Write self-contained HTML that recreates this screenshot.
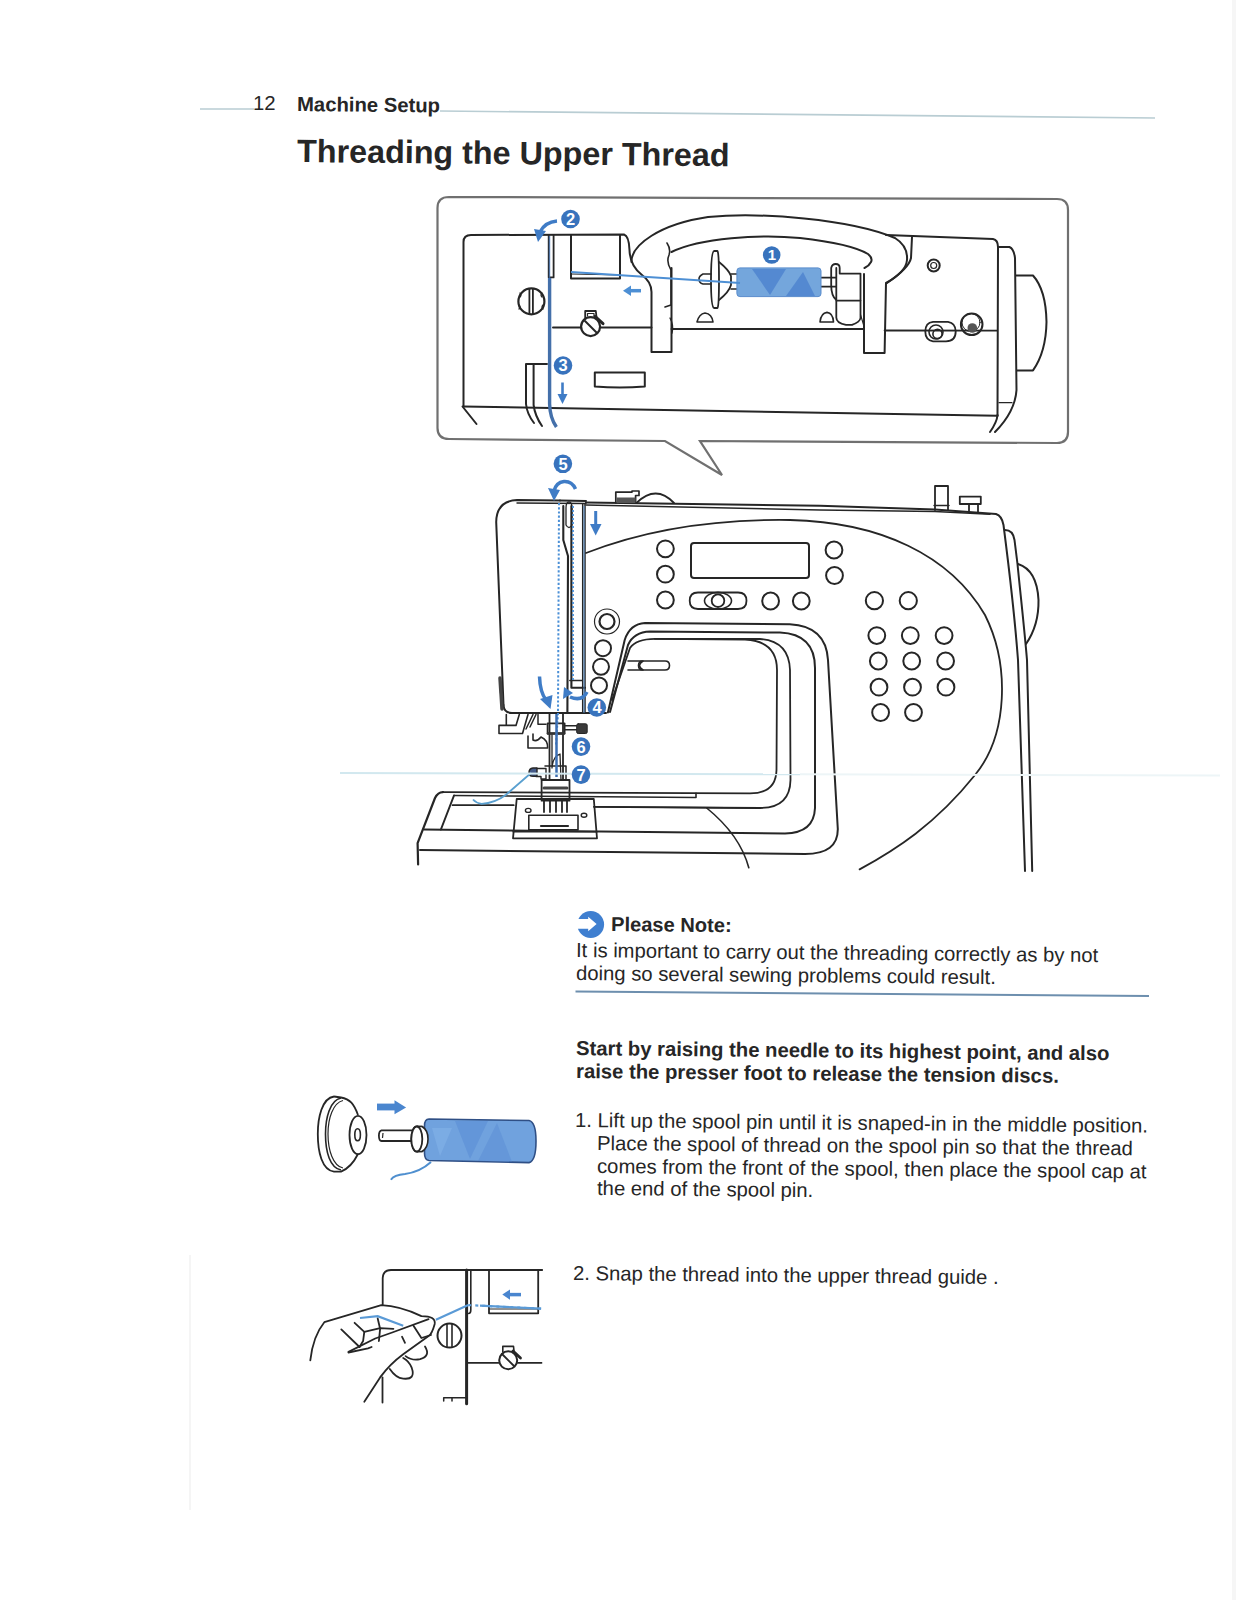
<!DOCTYPE html>
<html><head><meta charset="utf-8">
<style>
html,body{margin:0;padding:0;background:#fff;}
body{width:1236px;height:1600px;position:relative;overflow:hidden;font-family:"Liberation Sans",sans-serif;color:#262626;}
.t{position:absolute;white-space:pre;line-height:1;}
.b{font-weight:bold;}
svg{position:absolute;left:0;top:0;}
</style></head><body>
<svg width="1236" height="1600" viewBox="0 0 1236 1600">
<!-- header rule -->
<g stroke="#b9cdd3" stroke-width="1.6" fill="none">
<path d="M200 109 L254 109"/>
<path d="M440 111 L1155 118"/>
</g>
<!-- callout box -->
<path d="M449 197 L1057 199 Q1068 199 1068 210 L1068 432 Q1068 443 1057 443 L700 441 L722 475 L665 441 L449 439 Q437.5 439 437.5 428 L437.5 208 Q437.5 197 449 197 Z" fill="none" stroke="#707070" stroke-width="2.2"/>
<!-- ===== CALLOUT CONTENTS ===== -->
<g fill="none" stroke="#262626" stroke-width="2" stroke-linecap="round" stroke-linejoin="round">
<!-- body top & left -->
<path d="M463.5 406.5 L463.5 242 Q463.5 235 471 235 L624 234.5 Q629 236 629.5 250 Q630 266 642 275 Q651.5 282 651.5 292 L651.5 352 L671.5 352 L671.5 268"/>
<path d="M462.5 406.5 L476.5 424"/>
<!-- handle outer -->
<path d="M631.5 262 C631 245 660 224 708 217 C760 212 850 219 895 238 Q908 246 907 260 Q906 272 886 283 L884.6 353 L864 353 L864 274"/>
<!-- handle inner -->
<path d="M671.5 252 C700 238 760 234 800 238 C835 242 858 248 868 254 Q873 258 871 262 Q869 266 864.5 268"/>
<!-- squiggle at left leg -->
<path d="M667 243 Q671 249 669 255 Q666 262 671 270 L671 305 L665 307" stroke-width="1.6"/>
<path d="M670 318 Q674 325 672 333" stroke-width="1.4"/>
<!-- right box top line -->
<path d="M886 235 L993 239 Q998 240 998 247 L997.5 415.7"/>
<path d="M912 237 L911 258 Q909 268 887 283"/>
<!-- right side panel & handwheel -->
<path d="M998 247 L1009.4 247 Q1014 249 1015 258 L1016.5 390 Q1015 412 995 432"/>
<path d="M997.5 415 Q997 422 990 432" />
<path d="M1016 275.5 L1033 275.5 Q1046 290 1046.5 322 Q1046 352 1033 370.4 L1017 370.4"/>
<!-- bottom line -->
<path d="M463.5 406.5 L997.5 415.7"/>
<path d="M999 402.7 L1012 402.7" stroke-width="1.2"/>
<!-- mid horizontal lines -->
<path d="M553 327.4 L581 327.4 M600.3 327.4 L651.5 327.4"/>
<path d="M671.5 329 L864 329"/>
<path d="M884.6 330.5 L997 330.7" stroke-width="1.8"/>
<!-- knob -->
<circle cx="531.4" cy="301.4" r="13" stroke-width="2.2"/>
<path d="M520 293 q2 2 0 4 M519 305 q2 2 0 4 M542 293 q-2 2 0 4 M543 305 q-2 2 0 4" stroke-width="1.2"/>
<path d="M529.4 289 L529.4 314 M532.9 289 L532.9 314" stroke-width="1.8"/>
<!-- guide double line -->
<path d="M548.7 235 L548.7 277.4 L553.6 277.4 L553.6 235" stroke-width="1.8"/>
<!-- rectangle guide -->
<path d="M571 235 L571 278.6 L620 278.6 L620 235" />
<path d="M571 274 L620 275" stroke-width="1.2"/>
<!-- tension dial -->
<circle cx="590.6" cy="326.6" r="9.5" stroke-width="2.2"/>
<path d="M585 321 L597 333" stroke-width="2"/>
<path d="M585.2 318 L585.2 311 L595.8 311 L596.5 317" stroke-width="1.8"/>
<path d="M587.5 316 L587.5 313.5 L594 313.5 L594 316" stroke-width="1.2"/>
<path d="M595 316.4 L603 323.7" stroke-width="3"/>
<!-- take-up piece -->
<path d="M547 364 L526 364 L526 404 Q527 414 534 423"/>
<path d="M533.6 365 L533.6 405 Q535 416 542 426"/>
<!-- small rect -->
<path d="M594.8 372.4 L644.8 372.6 L644.8 386.5 Q620 388.5 594.8 386.5 Z"/>
<!-- spool cap -->
<path d="M714 251 Q711 252 711 280 Q711 307 714 308 L717.5 308 Q719 306 719 280 Q719 253 717.5 251 Z" stroke-width="1.8"/>
<path d="M719 262 Q729 270 731 276 L731 285 Q729 292 719 300" stroke-width="1.8"/>
<path d="M711 274 L703 274 Q699 276 699 279 Q699 283 703 284 L711 284" stroke-width="1.6"/>
<path d="M731 274 L737 274 M731 289 L737 289" stroke-width="1.6"/>
<!-- right spool holder -->
<path d="M821 277.6 L836 277.6 M821 286.6 L836 286.6" stroke-width="1.6"/>
<path d="M836.3 300 Q831.2 296 831.2 285 L831.2 268 Q832 264 835.7 264 Q839.7 264 839.7 268 L839.7 273.6 L860.5 273.6 L860.5 318 Q860 322 852 324.8 L846 324.8 Q836.3 323 836.3 317.5 L836.3 268" stroke-width="1.8"/>
<path d="M836.3 300.6 L860.5 300.6" stroke-width="1.6"/>
<path d="M860.5 314.7 L864.4 327.6" stroke-width="1.2"/>
<!-- bumps -->
<path d="M697 322 Q699 314 705 313 Q712 314 713 322 Z" stroke-width="1.6"/>
<path d="M820 322 Q821 313 827 312.4 Q833 313 833.5 322 Z" stroke-width="1.6"/>
<!-- screw -->
<circle cx="933.7" cy="265.5" r="6" stroke-width="2"/>
<circle cx="933.7" cy="265.5" r="3" stroke-width="1.2"/>
<!-- bobbin winder -->
<path d="M933 321.8 L948 321.8 Q955.7 323 955.7 331.5 Q955.7 341.3 946 341.3 L933 341.3 Q925.3 340 925.3 331.5 Q925.3 322.5 933 321.8 Z" stroke-width="1.8"/>
<circle cx="936" cy="332" r="7" stroke-width="1.6"/>
<circle cx="937.5" cy="334" r="4.6" stroke-width="1.6"/>
<!-- stop knob -->
<circle cx="971.7" cy="324.3" r="10.8" stroke-width="2"/>
<circle cx="971" cy="322.5" r="9" stroke-width="1"/>
</g>
<circle cx="972.3" cy="328" r="4.8" fill="#555"/>
<!-- callout blue parts -->
<g>
<rect x="736.9" y="267.9" width="84.1" height="28.7" rx="3" fill="#74a6dc" stroke="#5a8ccc" stroke-width="1"/>
<path d="M752 269 L786 269 L770 295 Z" fill="#4f84cf" opacity="0.85"/>
<path d="M786 296 L815 296 L803 272 Z" fill="#4f84cf" opacity="0.85"/>
<path d="M571 272 L740 283" stroke="#4d8fd4" stroke-width="1.8" fill="none"/>
<path d="M549.6 278 L549.6 404 Q550 418 556.4 427" stroke="#4470aa" stroke-width="3.4" fill="none"/>
<path d="M549.5 236 L549.5 280" stroke="#3d6fb3" stroke-width="1.5" fill="none" opacity="0.7"/>
<!-- arrow left small (callout) -->
<path d="M641 290.7 L630 290.7" stroke="#4d8fd4" stroke-width="3.5" fill="none"/>
<path d="M623 290.7 L631 285.5 L631 296 Z" fill="#4d8fd4"/>
<!-- arrow 2 curved -->
<path d="M557 221 Q545 222 540 232" stroke="#3f7cc6" stroke-width="3.5" fill="none"/>
<path d="M534 229 L546 231 L538 242 Z" fill="#3f7cc6"/>
<!-- arrow down 3 -->
<path d="M562.5 382.5 L562.5 396" stroke="#3f7cc6" stroke-width="2.6" fill="none"/>
<path d="M557.5 394 L567.5 394 L562.5 404 Z" fill="#3f7cc6"/>
</g>
<!-- ===== MAIN MACHINE ===== -->
<g fill="none" stroke="#262626" stroke-width="2" stroke-linecap="round" stroke-linejoin="round">
<!-- head top double line & left -->
<path d="M503.5 705 L496.2 522 Q496.5 501 517 500 L560 500.5"/>
<path d="M517 503 L586 503.5" stroke-width="1.4"/>
<path d="M560 500.5 L586 501"/>
<path d="M586 502.5 L820 505.8 L935 509.5 L996 514 Q1002 516 1003.5 525 C1008 560 1015 620 1018 660 L1025 871"/>
<path d="M586 505 L820 510 L935 511.5 L990 514.3" stroke-width="1.5"/>
<!-- second right edge -->
<path d="M1005 530 Q1013 530 1014.5 540 L1017.5 564 C1020 590 1024 625 1027 660 L1032.2 871"/>
<!-- handwheel -->
<path d="M1018 564 Q1037 570 1038.5 600 Q1039 625 1026 644"/>
<!-- top bobbin winder thing + dome -->
<path d="M615.8 503 L615.8 492.1 L632 492.1 L632 491 L639 491 L639 495.5 L635.6 495.5 L635.6 503" stroke-width="1.7"/>
<rect x="616.5" y="497.5" width="19" height="5.5" fill="#555" stroke="none"/>
<path d="M636.4 503 Q656 484 674 503" stroke-width="1.9"/>
<!-- spool pin & T pin -->
<path d="M935 510 L935 486 L948 486 L948 510" stroke-width="1.8"/>
<path d="M934 505.5 L949 505.5" stroke-width="1.4"/>
<path d="M959.8 504 L959.8 496.6 L980.8 496.6 L980.8 504 Z M969 504 L969 512 M978 504 L978 512" stroke-width="1.8"/>
<!-- panel big curve -->
<path d="M586 553 C650 528 720 519 790 520 C880 522 950 555 985 615 C1010 665 1008 735 975 775 C935 825 895 850 859.6 869.4" stroke-width="1.8"/>
<!-- take-up slot & panel left edge -->
<path d="M582.7 504 L582.7 713 M585 504 L585 713" stroke-width="1.5"/>
<path d="M563.3 506 L563.3 540 L568 556 L567.4 713" stroke-width="2.1"/>
<path d="M571.4 506 L571.4 687.8 L585 687.8" stroke-width="2.1"/>
<path d="M569.8 680.5 L582 680.5" stroke-width="1.4"/>
<path d="M566 508 Q566 502 569 502 Q572 502 572 508 L572 525 Q569 530 566 525 Z" stroke-width="1.3"/>
<!-- head bottom -->
<path d="M503.5 705 Q504 713 512 713 L606 713"/>
<path d="M500 678 L502 709" stroke="#444" stroke-width="3.5"/>
<!-- LCD & buttons row -->
<rect x="691" y="543.1" width="118" height="34.8" rx="3"/>
<circle cx="665.4" cy="548.8" r="8.4"/>
<circle cx="665.4" cy="574.2" r="8.4"/>
<circle cx="665.4" cy="600" r="8.4"/>
<circle cx="834" cy="550" r="8.4"/>
<circle cx="834.5" cy="575.5" r="8.4"/>
<circle cx="770.6" cy="601" r="8.4"/>
<circle cx="801.3" cy="601" r="8.4"/>
<circle cx="874.4" cy="600.7" r="8.6"/>
<circle cx="908.3" cy="600.7" r="8.6"/>
<path d="M698 592.5 L738 592.5 Q746.5 592.5 746.5 600.8 Q746.5 609 738 609 L698 609 Q689.7 609 689.7 600.8 Q689.7 592.5 698 592.5 Z" stroke-width="1.8"/>
<ellipse cx="718" cy="600.7" rx="13.5" ry="8.3" stroke-width="1.6"/>
<circle cx="718" cy="600.7" r="6.3" stroke-width="1.8"/>
<!-- grid buttons -->
<circle cx="876.8" cy="635.6" r="8.4"/><circle cx="910.3" cy="635.6" r="8.4"/><circle cx="944.1" cy="635.6" r="8.4"/>
<circle cx="878.3" cy="661" r="8.4"/><circle cx="911.7" cy="661" r="8.4"/><circle cx="945.6" cy="661" r="8.4"/>
<circle cx="879" cy="687.2" r="8.4"/><circle cx="912.5" cy="687.2" r="8.4"/><circle cx="946" cy="687.2" r="8.4"/>
<circle cx="880.6" cy="712.5" r="8.4"/><circle cx="913.5" cy="712.5" r="8.4"/>
<!-- side buttons -->
<circle cx="607" cy="621.5" r="7.5" stroke-width="2.2"/>
<circle cx="607" cy="621.5" r="12.5" stroke-width="1.2"/>
<circle cx="603" cy="648.2" r="8"/>
<circle cx="601" cy="666.8" r="8"/>
<circle cx="599" cy="685.4" r="8"/>
<!-- arm curves -->
<path d="M607.9 712.5 L624.7 640 Q630 624 645 623.1 L789.8 624.2 Q826 626 828 660 L837.8 829 Q838 854 805 854 L420 850" stroke-width="2"/>
<path d="M610 712 L628 645 Q634 632 650 631.6 L780 632.5 Q815 634 815 668 L815 808 Q814 833 785 833.5 L424 829.5" stroke-width="2"/>
<path d="M612 700 L630 648 Q636 639 655 638.9 L760 639 Q789 641 790 670 L790.5 780 Q790 808 760 808 L594 806.8" stroke-width="1.8"/>
<path d="M655 638.9 L745 639.5 Q777 641 777 670 L776.5 770 Q776 793.4 750 793.4 L443 792.1" stroke-width="1.8"/>
<path d="M696 793.4 L696 797.5 L454 795.5" stroke-width="1.6"/>
<path d="M706.7 808 Q740 835 748.8 867.8" stroke-width="1.6"/>
<!-- lever pill -->
<path d="M628 661 L643 661 Q636 665.5 643 670 L628 670" stroke-width="1.6"/>
<path d="M643 661 L665 661 Q669.5 661 669.5 665.5 Q669.5 670 665 670 L643 670 Q638.5 670 638.5 665.5 Q638.5 661 643 661 Z" stroke-width="1.6"/>
<!-- bed -->
<path d="M443 792.1 Q438 792 435 798 L417.6 843.1 L418.1 864.5" stroke-width="2.2"/>
<path d="M454 795.5 L440.9 829.5" stroke-width="2"/>
<path d="M452.6 805.2 L513.7 805.2" stroke-width="1.8"/>
<path d="M594 806.8 L760 808" stroke-width="1.6"/>
<!-- needle plate -->
<path d="M516.7 799 L593.8 799 L597 838.3 L513 838.3 Z" stroke-width="1.8"/>
<path d="M513 831.7 L597 831.7" stroke-width="1.4"/>
<path d="M528.8 815.3 L578 815.3 L578 829.9 L528.8 829.9 Z" stroke-width="1.6"/>
<path d="M541 826 L568 826" stroke-width="2.2"/>
<ellipse cx="528.2" cy="810.4" rx="2.8" ry="2" stroke-width="1.4"/>
<ellipse cx="584" cy="815.3" rx="2.8" ry="2" stroke-width="1.4"/>
<!-- needle bar & foot -->
<path d="M549.5 714 L549.5 779 M563 714 L563 779" stroke-width="1.8"/>
<path d="M547.6 723.3 L564.6 723.3 L564.6 733.5 L547.6 733.5 Z" stroke-width="1.8"/>
<path d="M548 733.5 L564 733.5" stroke="#333" stroke-width="2.6"/>
<path d="M564.6 725.8 L576.7 725.8 M564.6 729.8 L576.7 729.8" stroke-width="1.5"/>
<rect x="576.7" y="723.8" width="10.5" height="9.7" rx="1.5" fill="#3a3a3a" stroke-width="1"/>
<path d="M552 735 L552 768 Q553 756 560 754 L561 780" stroke-width="1.3"/>
<path d="M545 766 L566 766 L566 780 L545 780" stroke-width="1.5"/>
<path d="M541.6 780 L569.5 780 L569.5 800.7 L541.6 800.7 Z" stroke-width="1.8"/>
<path d="M544 800 L544 812 M550 800 L550 812 M556 800 L556 812 M562 800 L562 812 M567 800 L567 812" stroke-width="1.8"/>
<path d="M544 788 L567 788" stroke="#444" stroke-width="3"/>
<path d="M536 768.5 L546 768.5 L546 779 L541 779 L541 776.5 L536 776.5" stroke-width="1.4"/>
<path d="M533 768 Q529 768.5 529 772.5 Q529 776.3 533 776.3 L537 776.3 L537 768 Z" fill="#445a88" stroke-width="1.4"/>
<!-- presser lever left parts -->
<path d="M506.3 714.5 L506.3 725.4 L499 725.4 L499 733.5 L522.5 733.5 L528 714.5 M519.3 714.5 L516 725.4 L506.3 725.4" stroke-width="1.6"/>
<path d="M533 714.5 L526 729 M536 714.5 L530 727" stroke-width="1.5"/>
<path d="M538 714.5 L538 724.2 L546 724.2" stroke-width="1.5"/>
<path d="M528 736 L528 748 L547.6 748 Q548 740 541 737 Q537 742 533 740 L533 734" stroke-width="1.6"/>
</g>
<!-- main blue -->
<g fill="none">
<path d="M559 503 L558 713 L556 745" stroke="#4a8fd6" stroke-width="2" stroke-dasharray="2.2 2"/>
<path d="M573 506 L573 680" stroke="#4a8fd6" stroke-width="1.8" stroke-dasharray="2 2"/>
<path d="M584 506 L584 713" stroke="#4a8fd6" stroke-width="1.2" opacity="0.7"/>
<path d="M556.5 714 L556.5 777" stroke="#3d6fb3" stroke-width="2.5"/>
<path d="M531 773 L506 794.7 Q495 803 481.6 803.8 Q476 803 473 799.5" stroke="#5aa0d0" stroke-width="1.8"/>
<!-- arrow down right of slot -->
<path d="M595.7 511 L595.7 526" stroke="#3f7cc6" stroke-width="3"/>
<path d="M590 524 L601.5 524 L595.7 535.5 Z" fill="#3f7cc6"/>
<!-- circular arrow 5 -->
<path d="M575.5 489 Q572 481 564 481.5 Q556 482.5 554 491" stroke="#3f7cc6" stroke-width="3.5"/>
<path d="M548 488 L560 490 L554 501 Z" fill="#3f7cc6"/>
<!-- arrow left curved down -->
<path d="M539.5 676.5 Q540 692 546 700" stroke="#3f7cc6" stroke-width="3.5"/>
<path d="M540 699 L552.5 695 L550.5 709 Z" fill="#3f7cc6"/>
<!-- arrow 4 curved up -->
<path d="M587 692 Q582 702 570 697" stroke="#3f7cc6" stroke-width="3.5"/>
<path d="M564 687 L573 693 L563 699 Z" fill="#3f7cc6"/>
</g>
<!-- note icon & rule -->
<circle cx="590.7" cy="924.5" r="13.4" fill="#3f7fd0"/>
<path d="M576 918.9 L588.2 918.9 L588.2 916.8 L596.6 924 L588.2 931.2 L588.2 928.8 L576 928.8 Z" fill="#fff"/>
<path d="M575.5 991.4 L1149 996" stroke="#6d8fae" stroke-width="2" fill="none"/>
<!-- ===== SPOOL ILLUSTRATION ===== -->
<g fill="none" stroke="#262626" stroke-width="1.8" stroke-linejoin="round">
<path d="M334 1096.5 C322 1098 317.8 1118 317.8 1134 C317.8 1152 322 1170 334 1171.6 L341 1171.6 C350 1168 355 1160 358 1154"/>
<path d="M334 1096.5 L341 1097.5 C350 1099 354 1104 358 1115"/>
<path d="M341 1098 C330 1100 325.5 1118 325.5 1134 C325.5 1152 330 1168 341 1170" stroke-width="1.6"/>
<path d="M343 1100.5 C333 1103 328 1118 328 1134 C328 1150 333 1166 343 1168" stroke-width="1.2"/>
<ellipse cx="358" cy="1135" rx="8.5" ry="19.2"/>
<ellipse cx="357.6" cy="1134.7" rx="2.8" ry="6" stroke-width="1.6"/>
<path d="M415.8 1130.3 L381.5 1130.3 Q378.9 1131 378.9 1135.6 Q378.9 1141 381.5 1141 L415.8 1141"/>
<path d="M383 1133 L382.5 1138" stroke-width="1.2"/>
<ellipse cx="416.8" cy="1139" rx="5.5" ry="12.5"/>
<path d="M417 1126.5 L422 1126.5 Q428 1130 428 1139 Q428 1148 422 1151.5 L417 1151.5" stroke-width="1.6"/>
</g>
<path d="M429 1119 L529 1120.5 Q536 1122 536 1141 Q536 1161 529 1162.6 L429 1160.5 Q424.5 1160 424.5 1153 L424.5 1126 Q424.5 1119 429 1119 Z" fill="#70a2de" stroke="#2f4f85" stroke-width="1.6"/>
<path d="M455 1121 L488 1121 L470 1159 Z" fill="#4f85d2" opacity="0.4"/>
<path d="M478 1161 L512 1162 L497 1123 Z" fill="#4f85d2" opacity="0.35"/>
<path d="M432 1128 L452 1128 L440 1156 Z" fill="#8ab8ea" opacity="0.45"/>
<path d="M417 1126.5 L422 1126.5 Q428 1130 428 1139 Q428 1148 422 1151.5 L417 1151.5" fill="#fff" stroke="#262626" stroke-width="1.6"/>
<ellipse cx="416.8" cy="1139" rx="5.5" ry="12.5" fill="#fff" stroke="#262626" stroke-width="1.8"/>
<path d="M431 1162 Q420 1172 405 1174 Q394 1175 390.9 1179.7" stroke="#4f8fcf" stroke-width="2" fill="none"/>
<path d="M377 1107 L396 1107" stroke="#4a86cf" stroke-width="6.8" fill="none"/>
<path d="M394.5 1100.2 L406.1 1107.5 L394.5 1114.3 Z" fill="#4a86cf"/>
<!-- ===== HAND ILLUSTRATION ===== -->
<g fill="none" stroke="#262626" stroke-width="1.8" stroke-linejoin="round" stroke-linecap="round">
<path d="M382.7 1304.6 L382.7 1278 Q383 1270 391 1270 L542.2 1270"/>
<path d="M382.5 1377.4 L382.5 1402.5"/>
<path d="M466.6 1270 L466.6 1403.7" stroke-width="3"/>
<path d="M470.8 1270 L470.8 1310 Q470.8 1313.5 468.5 1313.5" stroke-width="1.6"/>
<path d="M489 1270 L489 1313.3 L538.2 1313.3 L538.2 1270"/>
<path d="M489 1309 L538 1309" stroke-width="1.1"/>
<circle cx="449.5" cy="1335.6" r="12" stroke-width="2"/>
<path d="M447 1324 L447 1347 M452 1324 L452 1347" stroke-width="1.6"/>
<path d="M468 1362.9 L498.5 1362.9 M517.8 1362.9 L541.6 1362.9" stroke-width="1.6"/>
<circle cx="508.2" cy="1360.3" r="9" stroke-width="2"/>
<path d="M502 1354 L514 1366"/>
<path d="M502.8 1352 L502.8 1346.4 L513.5 1346.4 L514 1351" stroke-width="1.6"/>
<path d="M513 1351 L520.5 1358" stroke-width="2.8"/>
<path d="M443.7 1401 L443.7 1397.8 L467 1397.8 M452 1397.8 L452 1401" stroke-width="1.5"/>
<!-- hand -->
<path d="M310.3 1360.4 Q313 1336 324.3 1322.2 L381.3 1305.2 Q400 1306 421.4 1316.1 Q436 1316 434.7 1324 Q432 1334 428.6 1336 L403.2 1354.3 Q390 1364 380.1 1377.4 L364.3 1401.7"/>
<path d="M428.6 1319.1 L392.2 1332.5 L375.2 1338.5 L348.5 1351.9"/>
<path d="M413.5 1325.8 L421.4 1338 L431 1335"/>
<path d="M402 1336.7 L405 1342.8"/>
<path d="M405.6 1356.1 Q412 1361 420.1 1359.2 Q431 1356 425 1346.4"/>
<path d="M389.8 1368.9 Q396 1378 403.2 1378.6 Q416 1380 411.7 1367.7 Q409 1361 403.2 1358"/>
<path d="M341.3 1329.4 L359.5 1347"/>
<path d="M354.6 1322.8 L364.3 1331.9 L363.1 1341 L359.5 1347"/>
<path d="M364.3 1331.9 L380.1 1328.2 L393.4 1328.8"/>
<path d="M377.7 1318.5 L380.1 1328.8 L378.9 1341"/>
<path d="M348.5 1352.5 L368 1348.3 L371.6 1347"/>
</g>
<g fill="none" stroke="#5a9ad6" stroke-width="2.2">
<path d="M360 1318 L377.7 1316.1 L403.2 1325.8"/>
<path d="M435.9 1319.7 L468.3 1305.1"/>
<path d="M468.3 1305.1 L541.1 1308.7" stroke-dasharray="3 4"/>
<path d="M480 1305.6 L541.1 1308.7"/>
</g>
<path d="M521 1294.6 L509 1294.6" stroke="#4a86cf" stroke-width="3.5" fill="none"/>
<path d="M502.3 1294.6 L510 1289.5 L510 1299.7 Z" fill="#4a86cf"/>
<!-- faint scan artifacts -->
<rect x="1232" y="0" width="4" height="1600" fill="#f6f6f6"/>
<path d="M340 773 L800 774.3" stroke="#d2e8ef" stroke-width="2" fill="none"/>
<path d="M800 774.3 L1220 775.5" stroke="#edf5f7" stroke-width="2" fill="none"/>
<path d="M190 1255 L190 1510" stroke="#eeeeee" stroke-width="1.2" fill="none"/>
<g font-family="Liberation Sans, sans-serif" font-weight="bold" text-anchor="middle">
<circle cx="771.7" cy="255" r="8.8" fill="#3873bd"/><text x="771.9000000000001" y="260.4" font-size="15" fill="#fff">1</text>
<circle cx="570.5" cy="219" r="9.3" fill="#3873bd"/><text x="570.7" y="224.9" font-size="16.5" fill="#fff">2</text>
<circle cx="563" cy="365.5" r="9.3" fill="#3873bd"/><text x="563.2" y="371.4" font-size="16.5" fill="#fff">3</text>
<circle cx="562.9" cy="463.8" r="9.3" fill="#3873bd"/><text x="563.1" y="469.7" font-size="16.5" fill="#fff">5</text>
<circle cx="596.8" cy="707.5" r="9.3" fill="#3873bd"/><text x="597.0" y="713.4" font-size="16.5" fill="#fff">4</text>
<circle cx="581" cy="746.6" r="9.3" fill="#3873bd"/><text x="581.2" y="752.5" font-size="16.5" fill="#fff">6</text>
<circle cx="581" cy="774.6" r="9.3" fill="#3873bd"/><text x="581.2" y="780.5" font-size="16.5" fill="#fff">7</text>
</g>

</svg>

<div class="t" style="left:253px;top:93.2px;font-size:20.25px;transform-origin:0 16.9px;transform:rotate(0.56deg);">12</div>
<div class="t b" style="left:297px;top:93.5px;font-size:20.25px;transform-origin:0 16.9px;transform:rotate(0.56deg);">Machine Setup</div>
<div class="t b" style="left:297px;top:134.7px;font-size:32.3px;transform-origin:0 27.1px;transform:rotate(0.56deg);">Threading the Upper Thread</div>
<div class="t b" style="left:611px;top:914.0px;font-size:20.1px;transform-origin:0 16.5px;transform:rotate(0.56deg);">Please Note:</div>
<div class="t" style="left:576px;top:940.3px;font-size:20.25px;transform-origin:0 16.9px;transform:rotate(0.56deg);">It is important to carry out the threading correctly as by not</div>
<div class="t" style="left:576px;top:963.2px;font-size:20.25px;transform-origin:0 16.9px;transform:rotate(0.56deg);">doing so several sewing problems could result.</div>
<div class="t b" style="left:576px;top:1037.9px;font-size:20.25px;transform-origin:0 16.9px;transform:rotate(0.56deg);">Start by raising the needle to its highest point, and also</div>
<div class="t b" style="left:576px;top:1060.5px;font-size:20.25px;transform-origin:0 16.9px;transform:rotate(0.56deg);">raise the presser foot to release the tension discs.</div>
<div class="t" style="left:575px;top:1109.7px;font-size:20.25px;transform-origin:0 16.9px;transform:rotate(0.56deg);">1. Lift up the spool pin until it is snaped-in in the middle position.</div>
<div class="t" style="left:597px;top:1132.8px;font-size:20.25px;transform-origin:0 16.9px;transform:rotate(0.56deg);">Place the spool of thread on the spool pin so that the thread</div>
<div class="t" style="left:597px;top:1155.6px;font-size:20.25px;transform-origin:0 16.9px;transform:rotate(0.56deg);">comes from the front of the spool, then place the spool cap at</div>
<div class="t" style="left:597px;top:1178.3px;font-size:20.25px;transform-origin:0 16.9px;transform:rotate(0.56deg);">the end of the spool pin.</div>
<div class="t" style="left:573px;top:1262.7px;font-size:20.25px;transform-origin:0 16.9px;transform:rotate(0.56deg);">2. Snap the thread into the upper thread guide .</div>
</body></html>
